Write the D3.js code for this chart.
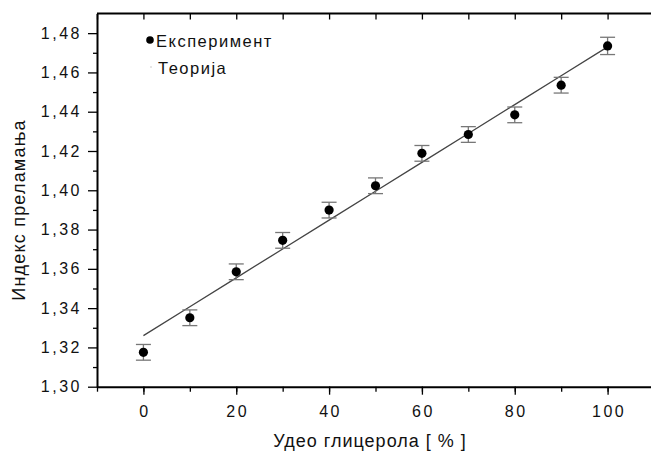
<!DOCTYPE html>
<html lang="sr">
<head>
<meta charset="UTF-8">
<title>Индекс преламања</title>
<style>
  body { margin: 0; background: #fff; }
  svg { display: block; font-family: "Liberation Sans", Arial, sans-serif; }
  .tick text { font-size: 16px; letter-spacing: 2.5px; fill: #111; }
</style>
<script src="https://cdn.jsdelivr.net/npm/d3@7"></script>
</head>
<body>
<svg width="651" height="455"></svg>
<script>
// glycerol share [%]
var share = [0, 10, 20, 30, 40, 50, 60, 70, 80, 90, 100];
// measured refractive index
var measured = [1.3175, 1.3351, 1.3585, 1.3745, 1.3899, 1.4023, 1.4188, 1.4284, 1.4384, 1.4535, 1.4735];
var errors = [0.004, 0.004, 0.004, 0.004, 0.004, 0.004, 0.004, 0.004, 0.004, 0.004, 0.0044];
// theory line
var theory = [1.3260, 1.3407, 1.3554, 1.3701, 1.3848, 1.3995, 1.4142, 1.4289, 1.4436, 1.4583, 1.4730];
var xTicks = [0, 20, 40, 60, 80, 100];
var yTicks = [1.30, 1.32, 1.34, 1.36, 1.38, 1.40, 1.42, 1.44, 1.46, 1.48];

var svg = d3.select("svg");
var padL = 97, padT = 13.5, padB = 386.7, padR = 654;

var x = d3.scaleLinear().domain([-10, 110]).range([padL, padR]);
var y = d3.scaleLinear().domain([1.30, 1.49]).range([padB, padT]);

var fmt = function(d) { return d3.format(".2f")(d).replace(".", ","); };

// minor ticks
var xMinor = d3.range(-10, 111, 10);
var yMinor = d3.range(1.31, 1.49, 0.02);

svg.append("g")
    .attr("transform", "translate(0," + padB + ")")
    .call(d3.axisBottom(x).tickValues(xMinor).tickSize(5).tickFormat(""))
    .call(function(g) { g.select(".domain").remove(); });
svg.append("g")
    .attr("transform", "translate(" + padL + ",0)")
    .call(d3.axisLeft(y).tickValues(yMinor).tickSize(4).tickFormat(""))
    .call(function(g) { g.select(".domain").remove(); });
svg.append("g")
    .attr("transform", "translate(0," + padT + ")")
    .call(d3.axisTop(x).tickValues(xMinor).tickSize(-6).tickFormat(""))
    .call(function(g) { g.select(".domain").remove(); });

var xAxis = svg.append("g")
    .attr("transform", "translate(0," + padB + ")")
    .call(d3.axisBottom(x).tickValues(xTicks).tickSize(8).tickPadding(11).tickSizeOuter(0));
var yAxis = svg.append("g")
    .attr("transform", "translate(" + padL + ",0)")
    .call(d3.axisLeft(y).tickValues(yTicks).tickSize(9).tickPadding(6).tickFormat(fmt).tickSizeOuter(0));

svg.selectAll(".domain").attr("stroke-width", 2);
svg.selectAll(".tick line").attr("stroke-width", 1.3);
xAxis.selectAll("text").attr("dx", 1);

// top border
svg.append("line")
    .attr("x1", padL).attr("x2", padR)
    .attr("y1", padT).attr("y2", padT)
    .attr("stroke", "#000").attr("stroke-width", 2);

// theory line
svg.append("path")
    .datum(share)
    .attr("fill", "none")
    .attr("stroke", "#444")
    .attr("stroke-width", 1.3)
    .attr("d", d3.line().x(function(d) { return x(d); }).y(function(d, i) { return y(theory[i]); }));

// error bars
var eb = svg.append("g").attr("stroke", "#777").attr("stroke-width", 1.3);
share.forEach(function(d, i) {
  var cx = x(d);
  eb.append("line").attr("x1", cx).attr("x2", cx)
    .attr("y1", y(measured[i] - errors[i])).attr("y2", y(measured[i] + errors[i]));
  [measured[i] - errors[i], measured[i] + errors[i]].forEach(function(v) {
    eb.append("line").attr("x1", cx - 7.5).attr("x2", cx + 7.5)
      .attr("y1", y(v)).attr("y2", y(v));
  });
});

// points
svg.append("g").selectAll("circle")
    .data(share)
    .join("circle")
    .attr("cx", function(d) { return x(d); })
    .attr("cy", function(d, i) { return y(measured[i]); })
    .attr("r", 4.6)
    .attr("fill", "#000");

// legend
svg.append("circle").attr("cx", 150).attr("cy", 40).attr("r", 3.8).attr("fill", "#000");
svg.append("text").attr("x", 156).attr("y", 46.5)
    .attr("font-size", 16.5).attr("letter-spacing", 1.5).attr("fill", "#111").text("Експеримент");
svg.append("line").attr("x1", 150).attr("x2", 152).attr("y1", 67).attr("y2", 67)
    .attr("stroke", "#ccc").attr("stroke-width", 1);
svg.append("text").attr("x", 158).attr("y", 74)
    .attr("font-size", 16.5).attr("letter-spacing", 1.5).attr("fill", "#111").text("Теорија");

// axis titles
svg.append("text")
    .attr("x", 370).attr("y", 447)
    .attr("text-anchor", "middle")
    .attr("font-size", 18).attr("letter-spacing", 1).attr("fill", "#111")
    .text("Удео глицерола [ % ]");
svg.append("text")
    .attr("transform", "translate(25,210) rotate(-90)")
    .attr("text-anchor", "middle")
    .attr("font-size", 18).attr("letter-spacing", 1.2).attr("fill", "#111")
    .text("Индекс преламања");
</script>
</body>
</html>
